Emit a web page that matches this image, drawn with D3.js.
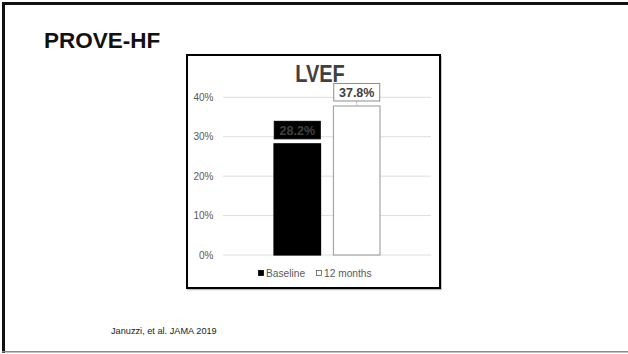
<!DOCTYPE html>
<html>
<head>
<meta charset="utf-8">
<script src="https://cdn.jsdelivr.net/npm/d3@7/dist/d3.min.js"></script>
<style>
  html, body { margin: 0; padding: 0; background: #fff; }
  svg { display: block; font-family: "Liberation Sans", Arial, Helvetica, sans-serif; }
</style>
</head>
<body>
<svg id="chart" width="628" height="354"></svg>
<script>
// ---- data ----
const slideTitle = "PROVE-HF";
const chartTitle = "LVEF";
const categories = ["LVEF"];
const seriesNames = ["Baseline", "12 months"];
const seriesValues = [0.282, 0.378];
const yTicks = [0, 0.1, 0.2, 0.3, 0.4];
const footnote = "Januzzi, et al. JAMA 2019";

const svg = d3.select("#chart");

// slide frame
svg.append("line").attr("x1", 2).attr("x2", 628).attr("y1", 3.5).attr("y2", 3.5)
  .attr("stroke", "#111").attr("stroke-width", 3);
svg.append("line").attr("x1", 3.5).attr("x2", 3.5).attr("y1", 2).attr("y2", 353)
  .attr("stroke", "#111").attr("stroke-width", 3);
svg.append("line").attr("x1", 2).attr("x2", 628).attr("y1", 351.8).attr("y2", 351.8)
  .attr("stroke", "#8a8a8a").attr("stroke-width", 1.5);

// slide title
svg.append("text").attr("x", 44).attr("y", 47.5)
  .attr("font-size", 22.5).attr("font-weight", "bold").attr("fill", "#111")
  .text(slideTitle);

// footnote
svg.append("text").attr("x", 111).attr("y", 334)
  .attr("font-size", 9.2).attr("fill", "#222").text(footnote);

// chart box
svg.append("rect").attr("x", 188).attr("y", 56.5).attr("width", 253).attr("height", 233)
  .attr("fill", "none").attr("stroke", "#bbb").attr("stroke-width", 1.5);
svg.append("rect").attr("x", 187).attr("y", 55).attr("width", 253).attr("height", 233)
  .attr("fill", "#fff").attr("stroke", "#000").attr("stroke-width", 2);

// scales
const plotLeft = 223, plotRight = 431;
const y = d3.scaleLinear().domain([0, 0.4]).range([255, 97.3]);
const x0 = d3.scaleBand().domain(categories).range([plotLeft, plotRight])
  .paddingInner(0).paddingOuter(0.472);
const x1 = d3.scaleBand().domain(seriesNames).range([0, x0.bandwidth()]).paddingInner(0.2);

// gridlines
svg.append("g").selectAll("line").data(yTicks).join("line")
  .attr("x1", plotLeft).attr("x2", plotRight)
  .attr("y1", d => y(d)).attr("y2", d => y(d))
  .attr("stroke", "#dedede").attr("stroke-width", 1);

// y axis (labels only)
const yAxis = d3.axisLeft(y).tickValues(yTicks).tickFormat(d3.format(".0%"))
  .tickSize(0).tickPadding(0);
const ga = svg.append("g").attr("transform", "translate(213.5,0)").call(yAxis);
ga.select(".domain").remove();
ga.selectAll("text").attr("font-size", 10).attr("fill", "#595959")
  .attr("font-family", "Liberation Sans, Arial, sans-serif");

// chart title
svg.append("text").attr("transform", "translate(320,81.5) scale(1,1.16)")
  .attr("text-anchor", "middle").attr("font-size", 20).attr("font-weight", "bold")
  .attr("fill", "#404040").text(chartTitle);

// bars
const fills = ["#000000", "#ffffff"];
const strokes = ["#000000", "#a6a6a6"];
const barData = seriesNames.map((s, i) => ({ s, v: seriesValues[i], i }));
const gBars = svg.append("g").attr("transform", `translate(${x0(categories[0])},0)`);
gBars.selectAll("rect").data(barData).join("rect")
  .attr("x", d => x1(d.s) + 0.5).attr("width", x1.bandwidth() - 1)
  .attr("y", d => y(d.v)).attr("height", d => y(0) - y(d.v))
  .attr("fill", d => fills[d.i]).attr("stroke", d => strokes[d.i]).attr("stroke-width", 1.2);

// data labels
const boxW = 46, boxH = 17.5, gap = 5;
const lab = gBars.selectAll("g.lab").data(barData).join("g").attr("class", "lab");
lab.filter(d => d.i === 1).append("line")
  .attr("x1", d => x1(d.s) + x1.bandwidth() / 2).attr("x2", d => x1(d.s) + x1.bandwidth() / 2)
  .attr("y1", d => y(d.v) - gap).attr("y2", d => y(d.v))
  .attr("stroke", "#c8c8c8").attr("stroke-width", 1);
lab.append("rect")
  .attr("x", d => x1(d.s) + x1.bandwidth() / 2 - boxW / 2).attr("width", boxW)
  .attr("y", d => y(d.v) - gap - boxH).attr("height", boxH)
  .attr("fill", d => d.i === 0 ? "#000" : "#fff")
  .attr("stroke", d => d.i === 0 ? "#000" : "#8c8c8c").attr("stroke-width", 1);
lab.append("text")
  .attr("x", d => x1(d.s) + x1.bandwidth() / 2)
  .attr("y", d => y(d.v) - gap - 4.3)
  .attr("text-anchor", "middle").attr("font-size", 12.5).attr("font-weight", "bold")
  .attr("fill", "#404040").text(d => d3.format(".1%")(d.v));

// legend
const legendItems = [
  { name: seriesNames[0], x: 258, fill: "#000", stroke: "#000" },
  { name: seriesNames[1], x: 316, fill: "#fff", stroke: "#595959" }
];
const lg = svg.append("g").selectAll("g").data(legendItems).join("g")
  .attr("transform", d => `translate(${d.x},0)`);
lg.append("rect").attr("x", 0.5).attr("y", 270.5).attr("width", 5).attr("height", 5)
  .attr("fill", d => d.fill).attr("stroke", d => d.stroke).attr("stroke-width", 0.8);
lg.append("text").attr("x", 8).attr("y", 277).attr("font-size", 10.2)
  .attr("fill", "#595959").text(d => d.name);
</script>
</body>
</html>
